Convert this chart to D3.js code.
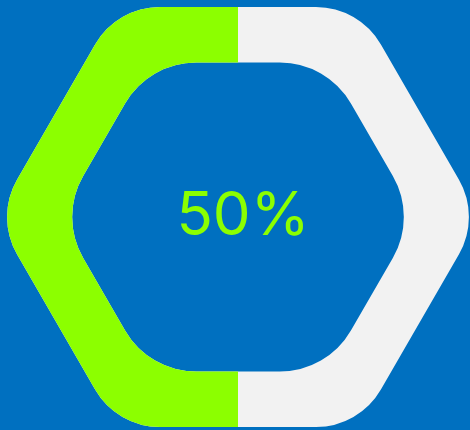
<!DOCTYPE html>
<html>
<head>
<meta charset="utf-8">
<script src="https://cdn.jsdelivr.net/npm/d3@7"></script>
<style>
  html, body { margin: 0; padding: 0; background: #0070C0; }
  svg { display: block; }
</style>
</head>
<body>
<div id="chart"></div>
<script>
// Progress value shown by the hexagonal gauge
const labels = ["50%"];
const values = [0.5];

const colors = { background: "#0070C0", fill: "#8CFF00", track: "#F2F2F2", text: "#8CFF00" };

const width = 470, height = 430;
const cx = 238, cy = 217;

const svg = d3.select("#chart").append("svg")
  .attr("width", width)
  .attr("height", height);

svg.append("rect").attr("width", width).attr("height", height).attr("fill", colors.background);

// Flat-topped hexagon with rounded corners, built with arcTo
function roundedHex(p, R, r) {
  const pts = d3.range(6).map(i => {
    const a = Math.PI / 3 * i;
    return [cx + R * Math.cos(a), cy + R * Math.sin(a)];
  });
  const mid = (a, b) => [(a[0] + b[0]) / 2, (a[1] + b[1]) / 2];
  const start = mid(pts[5], pts[0]);
  p.moveTo(start[0], start[1]);
  for (let i = 0; i < 6; i++) {
    const v = pts[i], n = pts[(i + 1) % 6];
    const m = mid(v, n);
    p.arcTo(v[0], v[1], m[0], m[1], r);
  }
  p.closePath();
  return p;
}

const ring = d3.path();
roundedHex(ring, 242.5, 75);
roundedHex(ring, 178.5, 82);
const ringPath = ring.toString();

// Grey track: the full ring
svg.append("path")
  .attr("d", ringPath)
  .attr("fill", colors.track)
  .attr("fill-rule", "evenodd");

// Green progress: the ring clipped to a sweep from the bottom, clockwise
const sweep = d3.arc()
  .innerRadius(0)
  .outerRadius(400)
  .startAngle(Math.PI)
  .endAngle(Math.PI + 2 * Math.PI * values[0]);

svg.append("clipPath").attr("id", "progress-clip")
  .append("path")
  .attr("transform", `translate(${cx},${cy})`)
  .attr("d", sweep());

svg.append("path")
  .attr("d", ringPath)
  .attr("fill", colors.fill)
  .attr("fill-rule", "evenodd")
  .attr("clip-path", "url(#progress-clip)");

svg.append("text")
  .attr("x", 243)
  .attr("y", 235)
  .attr("text-anchor", "middle")
  .attr("font-family", "Inter, 'Liberation Sans', Arial, sans-serif")
  .attr("font-size", 60)
  .attr("font-weight", 400)
  .attr("fill", colors.text)
  .text(labels[0]);
</script>
</body>
</html>
